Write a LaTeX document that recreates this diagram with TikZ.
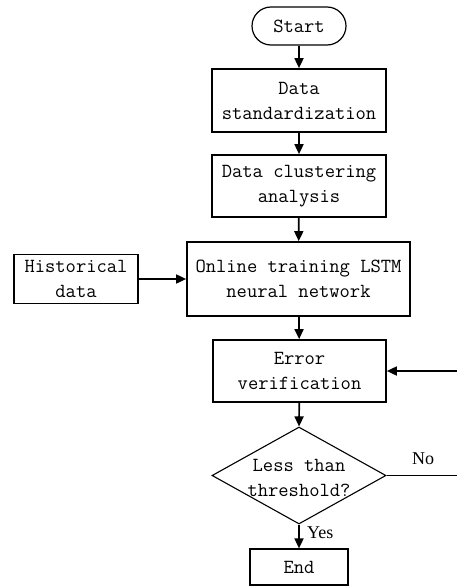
\documentclass[tikz,border=0pt]{standalone}
\usepackage{fontspec}
\setmainfont{Liberation Serif}
\usetikzlibrary{arrows.meta,shapes.geometric}
\begin{document}
\begin{tikzpicture}[x=1pt,y=-1pt,
  box/.style={draw,line width=1.7pt,inner sep=0pt,align=center,font=\fontsize{20}{25}\ttfamily},
  dia/.style={draw,line width=1.1pt,diamond,inner sep=0pt,align=center,font=\fontsize{20}{25}\ttfamily},
  conn/.style={line width=1.7pt,-{Triangle[length=10pt,width=9pt]}},
  lab/.style={font=\fontsize{18}{20}\selectfont,inner sep=0pt}]
\clip (0,0) rectangle (457,586);
\useasboundingbox (0,0) rectangle (457,586);
\node[box,rounded corners=19pt,minimum width=94pt,minimum height=38pt,line width=1.2pt] (start) at (299,26) {Start};
\node[box,minimum width=174pt,minimum height=63pt] (ds) at (299,100.5) {Data\\standardization};
\node[box,minimum width=174pt,minimum height=62pt] (dc) at (299,186) {Data clustering\\analysis};
\node[box,minimum width=223pt,minimum height=74pt] (ot) at (298.5,279) {Online training LSTM\\neural network};
\node[box,minimum width=124pt,minimum height=49pt] (hd) at (76,279) {Historical\\data};
\node[box,minimum width=173pt,minimum height=62pt] (ev) at (299.5,371) {Error\\verification};
\node[dia,minimum width=174pt,minimum height=97pt,aspect=1.8] (dm) at (299,475.5) {};
\node[font=\fontsize{20}{25}\ttfamily,align=center,inner sep=0pt] (dmt) at (299,478) {Less than\\threshold?};
\node[box,minimum width=98pt,minimum height=36pt,line width=1.2pt] (end) at (299,567) {End};
\coordinate (c1) at (459,475.5);
\coordinate (c2) at (459,371);
\draw[conn] (start) -- (ds);
\draw[conn] (ds) -- (dc);
\draw[conn] (dc) -- (ot);
\draw[conn] (hd.east) -- (hd.east -| ot.west);
\draw[conn] (ot) -- (ev);
\draw[conn] (ev) -- (dm.north);
\draw[conn] (dm.south) -- (end);
\draw[conn] (dm.east) -- (c1) -- (c2) -- (ev.east);
\node[lab] (no) at (423,459) {No};
\node[lab,anchor=west] (yes) at (307,533) {Yes};
\end{tikzpicture}
\end{document}
